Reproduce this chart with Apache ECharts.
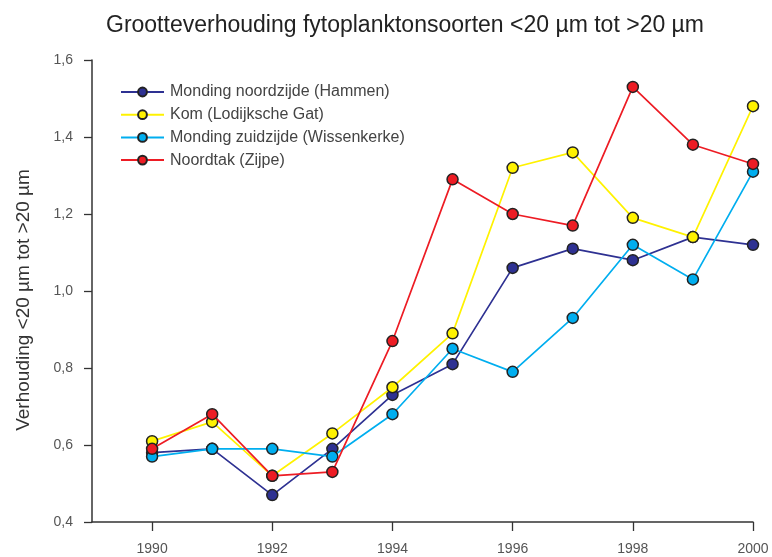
<!DOCTYPE html>
<html>
<head>
<meta charset="utf-8">
<script src="https://cdn.jsdelivr.net/npm/echarts@6/dist/echarts.min.js"></script>
<style>
  html, body { margin: 0; padding: 0; background: #fff; }
  #container { width: 772px; height: 557px; }
</style>
</head>
<body>
<div id="container"></div>
<script>
// years on the x axis and the labelled ticks
var years = [1990, 1991, 1992, 1993, 1994, 1995, 1996, 1997, 1998, 1999, 2000];
var yearTicks = [1990, 1992, 1994, 1996, 1998, 2000];

var seriesNames = [
  "Monding noordzijde (Hammen)",
  "Kom (Lodijksche Gat)",
  "Monding zuidzijde (Wissenkerke)",
  "Noordtak (Zijpe)"
];
var seriesColors = ["#2e3192", "#fff200", "#00aeef", "#ed1c24"];

// ratio <20 µm / >20 µm
var hammen      = [0.58, 0.59, 0.47, 0.59, 0.73, 0.81, 1.06, 1.11, 1.08, 1.14, 1.12];
var kom         = [0.61, 0.66, 0.52, 0.63, 0.75, 0.89, 1.32, 1.36, 1.19, 1.14, 1.48];
var wissenkerke = [0.57, 0.59, 0.59, 0.57, 0.68, 0.85, 0.79, 0.93, 1.12, 1.03, 1.31];
var zijpe       = [0.59, 0.68, 0.52, 0.53, 0.87, 1.29, 1.20, 1.17, 1.53, 1.38, 1.33];

var allValues = [hammen, kom, wissenkerke, zijpe];

var chart = echarts.init(document.getElementById("container"));

var series = allValues.map(function(vals, i) {
  return {
    name: seriesNames[i],
    type: "line",
    data: years.map(function(y, k) { return [y, vals[k]]; }),
    symbol: "circle",
    symbolSize: 11,
    lineStyle: { color: seriesColors[i], width: 1.7 },
    itemStyle: { color: seriesColors[i], borderColor: "#222", borderWidth: 1.5 },
    z: 2 + i
  };
});

var option = {
  backgroundColor: "#fff",
  animation: false,
  textStyle: { fontFamily: "Liberation Sans, Arial, sans-serif" },
  title: {
    text: "Grootteverhouding fytoplanktonsoorten <20 µm tot >20 µm",
    left: 400,
    textAlign: "center",
    top: 9,
    textStyle: { fontSize: 23, fontWeight: "normal", color: "#222" }
  },
  legend: {
    orient: "vertical",
    left: 115,
    top: 79,
    itemWidth: 43,
    itemHeight: 11,
    itemGap: 6.7,
    textStyle: { fontSize: 16, color: "#444", padding: [0, 0, 0, 1] },
    data: seriesNames
  },
  grid: { left: 92, right: 19, top: 60, bottom: 35 },
  xAxis: {
    type: "value",
    min: 1989,
    max: 2000,
    axisLine: { show: true, lineStyle: { color: "#333", width: 1.5 } },
    axisTick: { show: true, length: 9, customValues: yearTicks, lineStyle: { color: "#333", width: 1.3 } },
    axisLabel: {
      customValues: yearTicks,
      fontSize: 14,
      color: "#555",
      margin: 20,
      formatter: function(v) { return String(v); }
    },
    splitLine: { show: false }
  },
  yAxis: {
    type: "value",
    min: 0.4,
    max: 1.6,
    interval: 0.2,
    name: "Verhouding <20 µm tot >20 µm",
    nameLocation: "middle",
    nameGap: 59,
    nameTextStyle: { fontSize: 19, color: "#333", padding: [0, 18, 0, 0] },
    axisLine: { show: true, lineStyle: { color: "#333", width: 1.5 } },
    axisTick: { show: true, length: 8, lineStyle: { color: "#333", width: 1.3 } },
    axisLabel: {
      fontSize: 14,
      color: "#555",
      margin: 19,
      formatter: function(v) { return v.toFixed(1).replace(".", ","); }
    },
    splitLine: { show: false }
  },
  series: series
};

chart.setOption(option);
</script>
</body>
</html>
